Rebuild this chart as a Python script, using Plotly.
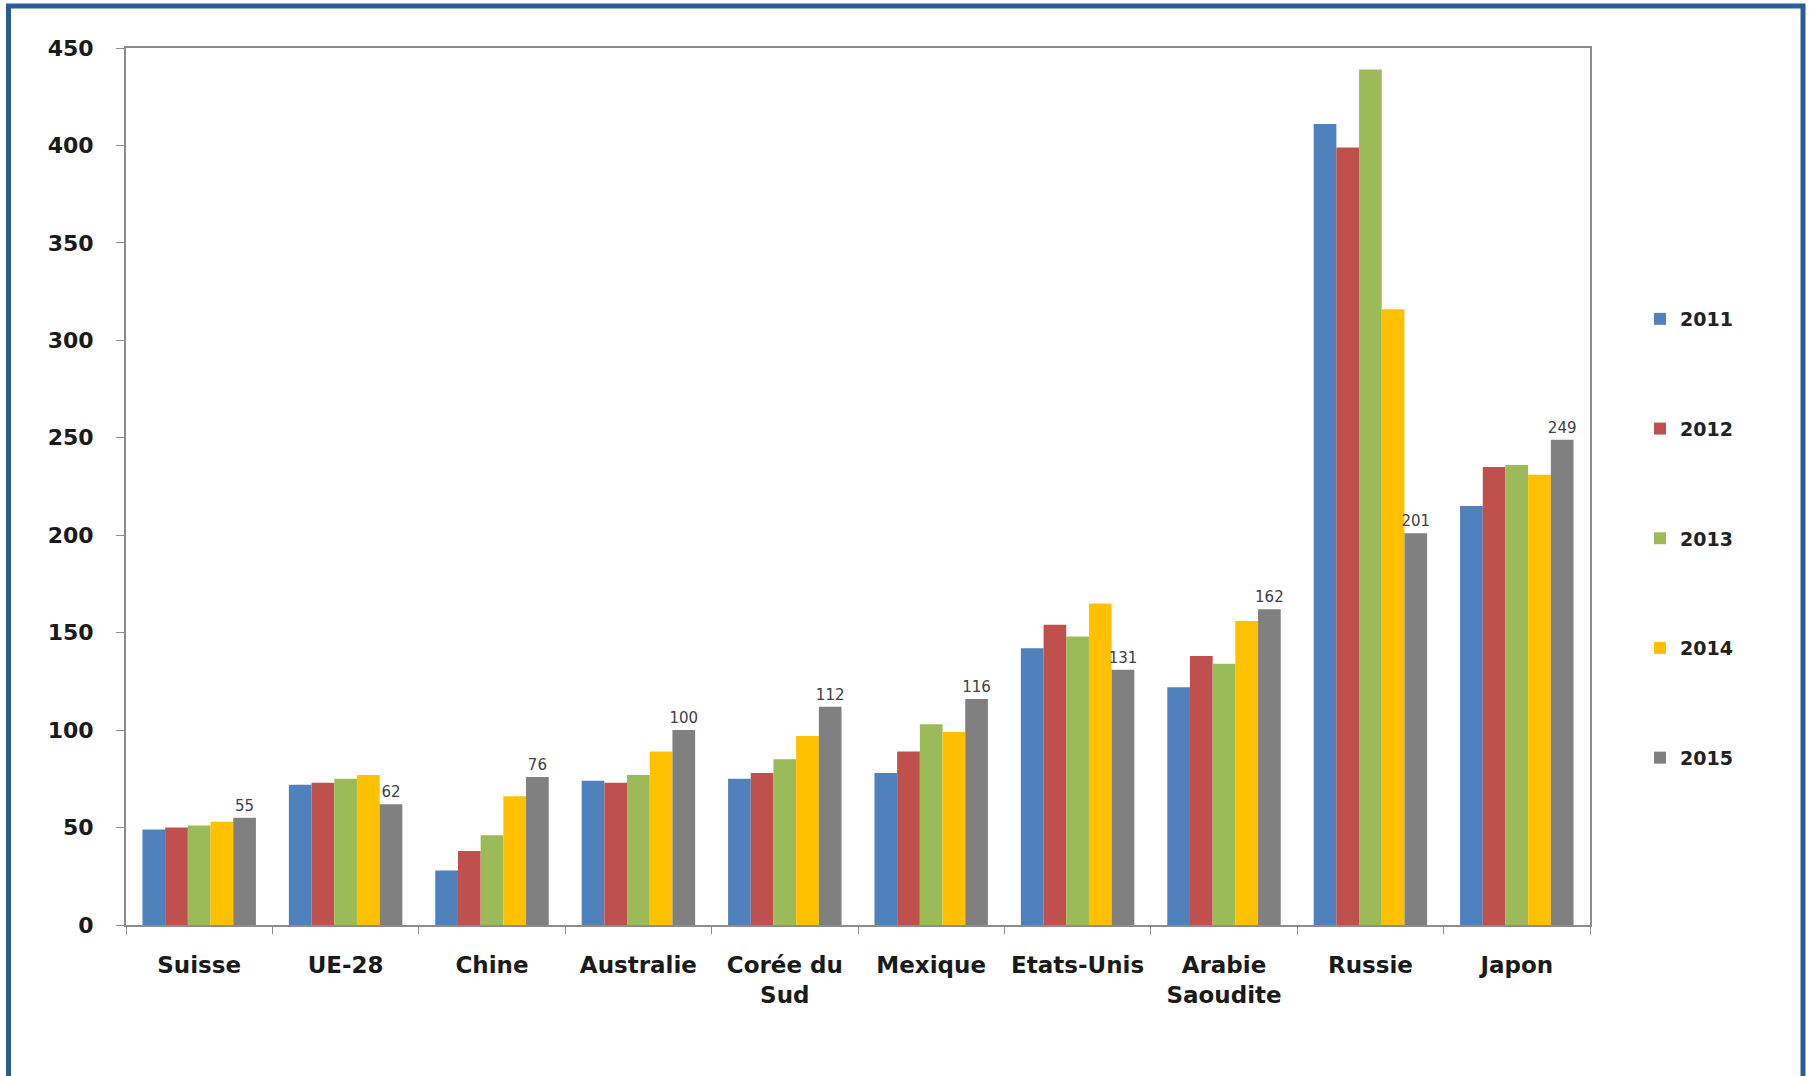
import plotly.graph_objects as go

categories = ["Suisse", "UE-28", "Chine", "Australie", "Corée du<br>Sud", "Mexique",
              "Etats-Unis", "Arabie<br>Saoudite", "Russie", "Japon"]
years = ["2011", "2012", "2013", "2014", "2015"]

v2011 = [49, 72, 28, 74, 75, 78, 142, 122, 411, 215]
v2012 = [50, 73, 38, 73, 78, 89, 154, 138, 399, 235]
v2013 = [51, 75, 46, 77, 85, 103, 148, 134, 439, 236]
v2014 = [53, 77, 66, 89, 97, 99, 165, 156, 316, 231]
v2015 = [55, 62, 76, 100, 112, 116, 131, 162, 201, 249]

series = [v2011, v2012, v2013, v2014, v2015]
colors = ["#4F81BD", "#C0504D", "#9BBB59", "#FFC000", "#808080"]

fig = go.Figure()
for i, (yr, vals, col) in enumerate(zip(years, series, colors)):
    kw = {}
    if yr == "2015":
        kw = dict(text=[str(v) for v in vals], textposition="outside",
                  textfont=dict(family="DejaVu Sans", size=15, color="#404040"),
                  constraintext="none", cliponaxis=False)
    fig.add_trace(go.Bar(x=categories, y=vals, name=yr, marker_color=col,
                         marker_line_width=0, legendgroup=yr, **kw))

W, H = 1813, 1076
L, R, T, B = 126, 1590, 48, 925
pw, ph = R - L, B - T

def px_x(x):
    return (x - L) / pw

def px_y(y):
    return (B - y) / ph

fig.update_layout(
    width=W, height=H,
    margin=dict(l=L, r=W - R, t=T, b=H - B, pad=0),
    paper_bgcolor="white", plot_bgcolor="white",
    barmode="group", bargap=0.225, bargroupgap=0,
    font=dict(family="DejaVu Sans", color="black"),
    legend=dict(x=px_x(1640), y=px_y(300), xanchor="left", yanchor="top",
                traceorder="grouped", tracegroupgap=82,
                font=dict(family="DejaVu Sans", size=19, weight="bold", color="#222222"),
                bgcolor="rgba(0,0,0,0)"),
    xaxis=dict(showline=True, linecolor="#8C8C8C", linewidth=2, mirror=True,
               ticks="outside", tickson="boundaries", ticklen=7, tickcolor="#8C8C8C",
               tickfont=dict(family="DejaVu Sans", size=23, weight="bold", color="#1a1a1a"),
               ticklabelstandoff=18, showgrid=False, tickangle=0),
    yaxis=dict(range=[0, 450], dtick=50, showline=True, linecolor="#8C8C8C", linewidth=2,
               mirror=True, ticks="outside", ticklen=8, tickcolor="#8C8C8C",
               tickfont=dict(family="DejaVu Sans", size=22, weight="bold", color="#1a1a1a"),
               ticklabelstandoff=18, showgrid=False, zeroline=False),
    shapes=[dict(type="rect", xref="paper", yref="paper",
                 x0=px_x(8.5), x1=px_x(1803), y0=px_y(1095), y1=px_y(6),
                 line=dict(color="#2B5C94", width=5), fillcolor="rgba(0,0,0,0)",
                 layer="above")],
)

fig.write_html("out.html", config={"displayModeBar": False},
               post_script="document.body.style.margin='0px';")
